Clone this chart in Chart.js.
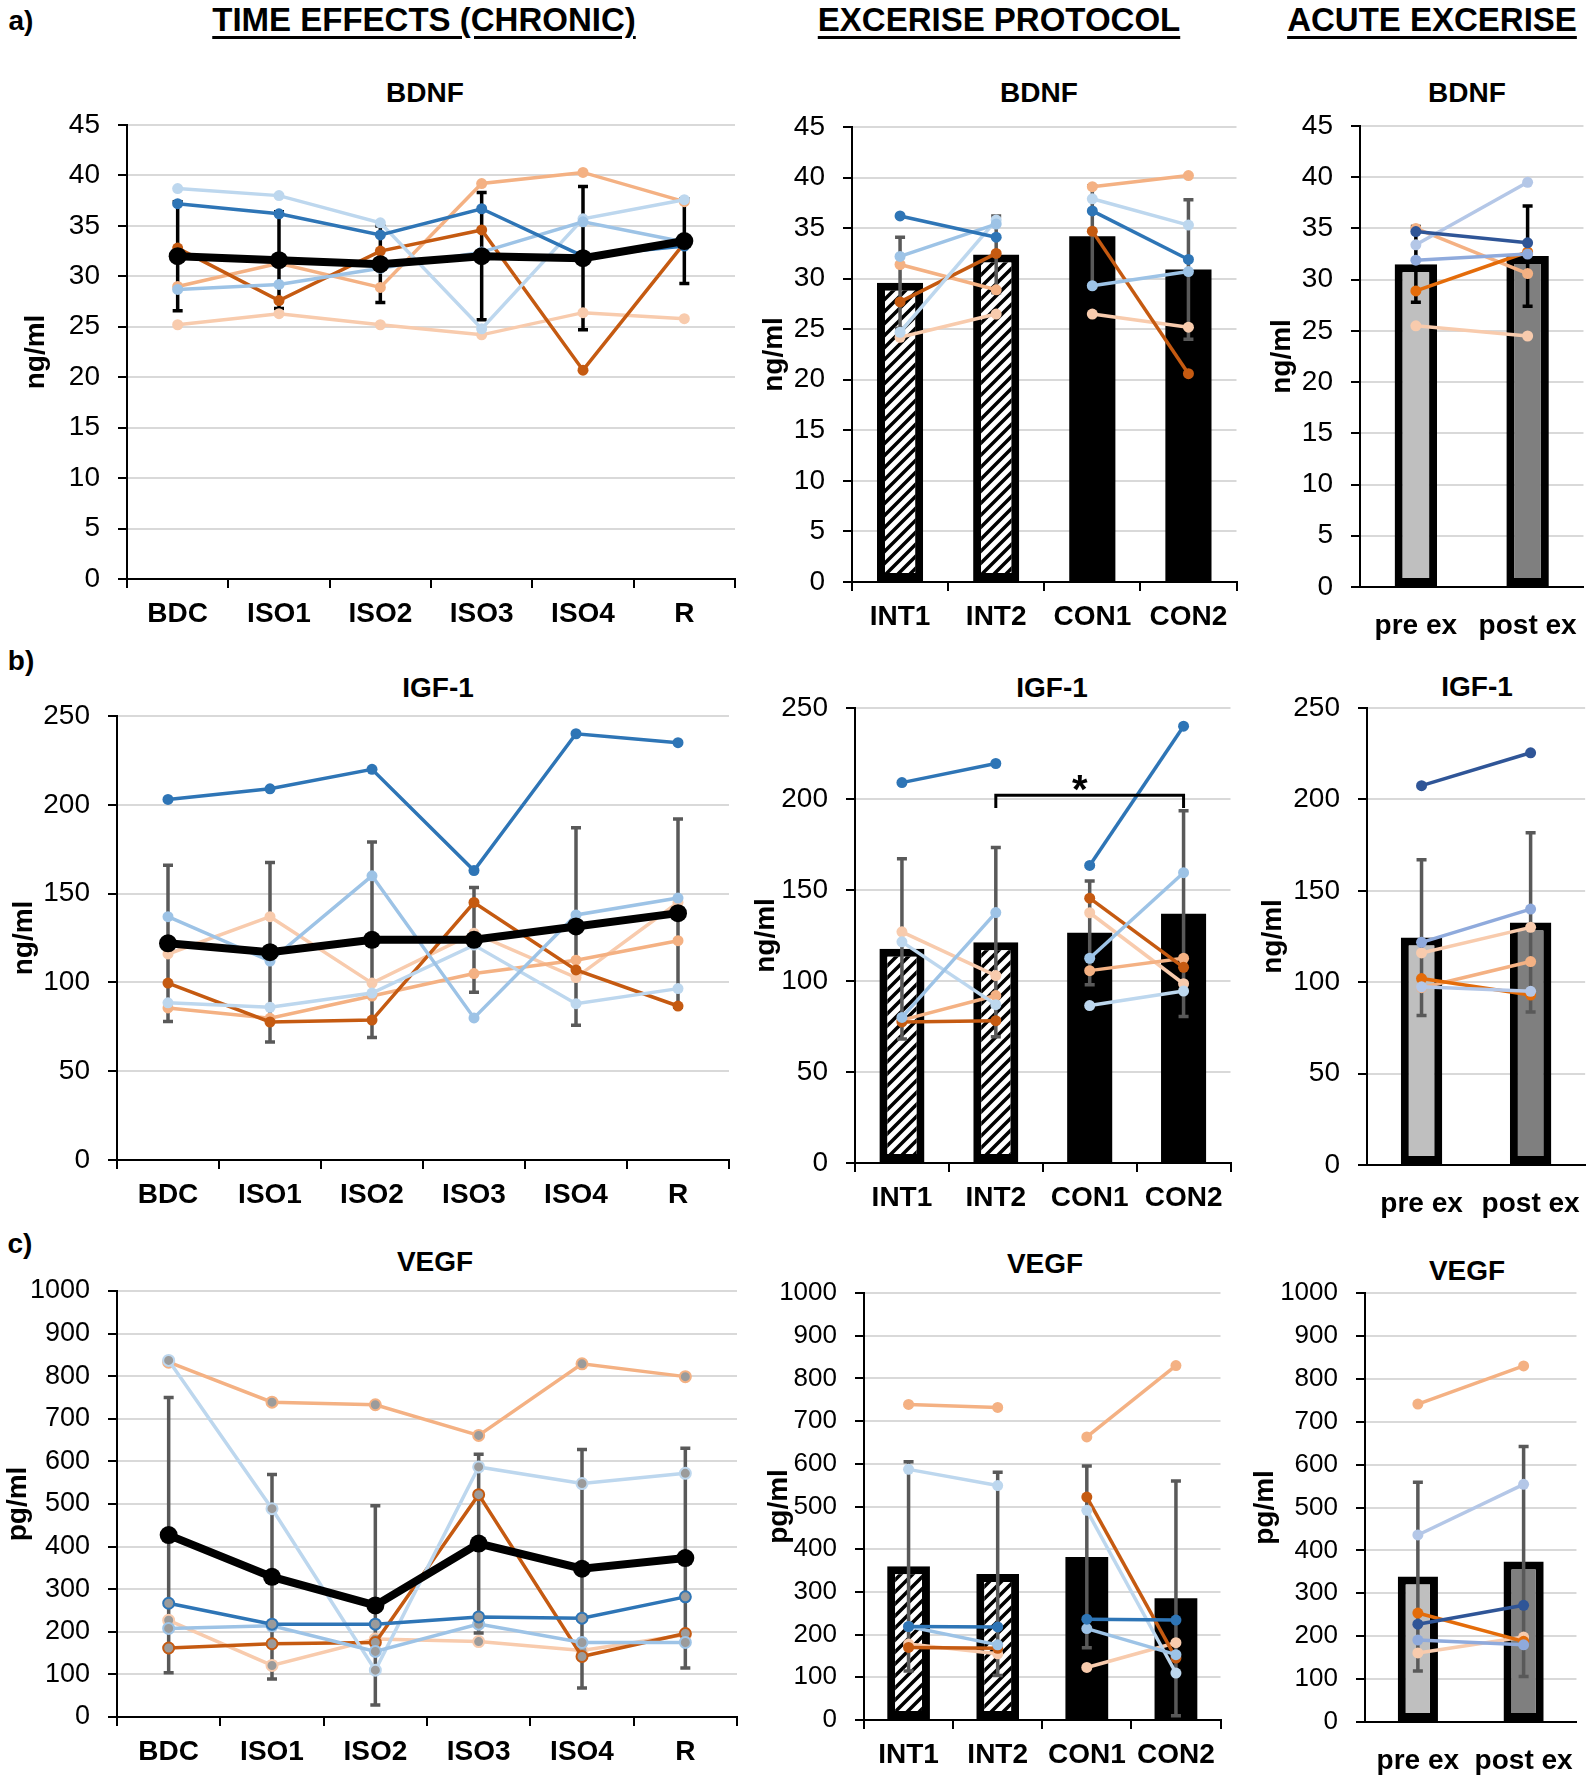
<!DOCTYPE html>
<html>
<head>
<meta charset="utf-8">
<script src="https://cdn.jsdelivr.net/npm/chart.js@4.4.1/dist/chart.umd.min.js"></script>
<style>
  body { margin: 0; background: #fff; width: 1594px; height: 1778px; position: relative; overflow: hidden;
         font-family: 'Liberation Sans', Arial, sans-serif; }
  .lbl { position: absolute; transform: translate(-50%, -50%); white-space: nowrap; font-weight: bold; color: #000; }
  .hdr { text-decoration: underline; text-decoration-thickness: 3px; text-underline-offset: 5px; }
  .panel { position: absolute; }
</style>
</head>
<body>
<script>
'use strict';

// ──────────────────────────────────────────────────────────────
//  Data
// ──────────────────────────────────────────────────────────────
const timeLabels     = ['BDC', 'ISO1', 'ISO2', 'ISO3', 'ISO4', 'R'];
const protocolLabels = ['INT1', 'INT2', 'CON1', 'CON2'];
const acuteLabels    = ['pre ex', 'post ex'];

// one colour per participant line (rows of every data table follow this order)
const subjectColors = ['#2E75B6', '#9DC3E6', '#BDD7EE', '#C55A11', '#F4B183', '#F8CBAD'];
const acuteColors   = ['#2F5597', '#8FAADC', '#B4C7E7', '#E46C0A', '#F4B183', '#F8CBAD'];

// a) BDNF (ng/ml)
const bdnfTime = [
  [37.2, 36.2, 34.1, 36.7, 32.0, 33.0],
  [28.7, 29.2, 30.8, 32.4, 35.4, 33.4],
  [38.7, 38.0, 35.3, 24.8, 35.7, 37.6],
  [32.8, 27.6, 32.5, 34.6, 20.7, 33.3],
  [29.0, 31.3, 28.9, 39.2, 40.3, 37.4],
  [25.2, 26.3, 25.2, 24.2, 26.4, 25.8],
];
const bdnfTimeMean = [32.0, 31.6, 31.2, 32.0, 31.8, 33.5];
const bdnfTimeSd   = [5.4, 4.8, 3.8, 6.3, 7.1, 4.2];

const bdnfProtocol = [
  [36.2, 34.1, 36.7, 31.9],
  [32.2, 35.4, 29.3, 30.7],
  [24.7, 35.8, 37.9, 35.3],
  [27.7, 32.5, 34.7, 20.6],
  [31.4, 28.9, 39.1, 40.2],
  [24.2, 26.5, 26.5, 25.2],
];
const bdnfProtocolMean = [29.6, 32.4, 34.2, 30.9];
const bdnfProtocolSd   = [4.5, 3.8, 5.0, 6.9];

const bdnfAcute = [
  [34.7, 33.6],
  [31.9, 32.5],
  [33.4, 39.5],
  [28.9, 32.7],
  [35.0, 30.6],
  [25.5, 24.5],
];
const bdnfAcuteMean = [31.5, 32.3];
const bdnfAcuteSd   = [3.7, 4.9];

// b) IGF-1 (ng/ml)
const igfTime = [
  [203, 209, 220, 163, 240, 235],
  [137, 112, 160, 80, 138, 147.5],
  [88.5, 86, 94, 121, 88, 96.5],
  [99.6, 77.7, 78.8, 145, 107, 86.7],
  [85.6, 79.8, 92.3, 105, 112.5, 123.5],
  [116, 137, 99.6, 127.7, 102.7, 145],
];
const igfTimeMean = [122, 117, 124, 124, 131.5, 139];
const igfTimeSd   = [44, 50.5, 55, 29.5, 55.6, 53];

const igfProtocol = [
  [209, 219.5, 163.5, 240],
  [80, 137.6, 112.5, 159.5],
  [121.5, 87, 86.5, 94.5],
  [77.5, 78.2, 145.5, 107.5],
  [78.5, 92, 105.7, 112.5],
  [127, 103, 137.5, 98.5],
];
const igfProtocolMean = [117.7, 121.3, 126.5, 137];
const igfProtocolSd   = [49.5, 52, 28.5, 56.5];
const igfBracketPair  = [1, 3];      // INT2 vs CON2
const igfBracketLevel = [202, 195];  // bar height, end of the drops

const igfAcute = [
  [207.5, 225.5],
  [121.8, 140],
  [97.5, 95],
  [102, 93],
  [97, 111.3],
  [116, 130],
];
const igfAcuteMean = [124.4, 132.7];
const igfAcuteSd   = [42.6, 49];

// c) VEGF (pg/ml)
const vegfTime = [
  [267, 218, 218, 235, 232, 282],
  [208, 214, 154, 218, 175, 175],
  [837, 489, 110, 587, 548, 572],
  [162, 172, 175, 522, 142, 196],
  [833, 739, 733, 661, 829, 799],
  [227, 121, 183, 177, 156, 193],
];
const vegfTimeMean = [427, 329, 262, 407, 348, 373];
const vegfTimeSd   = [323, 240, 234, 210, 280, 258];

const vegfProtocol = [
  [219, 218, 236, 234],
  [219, 176, 214, 153],
  [587, 549, 491, 110],
  [170, 168, 522, 145],
  [739, 732, 663, 830],
  [178, 155, 123, 181],
];
const vegfProtocolMean = [360, 342, 382, 285];
const vegfProtocolSd   = [245, 238, 213, 275];

const vegfAcute = [
  [228, 272],
  [191, 180],
  [436, 554],
  [254, 188],
  [741, 830],
  [161, 198],
];
const vegfAcuteMean = [339, 374];
const vegfAcuteSd   = [220, 268];

// ──────────────────────────────────────────────────────────────
//  Layout constants
// ──────────────────────────────────────────────────────────────
const FONT = "'Liberation Sans', Arial, sans-serif";
const PAD_TOP = 36, PAD_RIGHT = 4, X_AXIS_H = 62, Y_TITLE_HALF = 17;
const GRID = '#D9D9D9';
const ERR_GRAY = '#595959';

const panels = [
  { kind: 'time', labels: timeLabels, rows: bdnfTime, mean: bdnfTimeMean, sd: bdnfTimeSd, yMax: 45, yStep: 5,
    unit: 'ng/ml', err: '#000', axisX: 127, top: 125, bottom: 579, right: 740, yTitleX: 36, tick: 28 },
  { kind: 'protocol', labels: protocolLabels, rows: bdnfProtocol, mean: bdnfProtocolMean, sd: bdnfProtocolSd, yMax: 45, yStep: 5,
    unit: 'ng/ml', err: ERR_GRAY, axisX: 852, top: 127, bottom: 582, right: 1238, yTitleX: 774, tick: 28 },
  { kind: 'acute', labels: acuteLabels, rows: bdnfAcute, mean: bdnfAcuteMean, sd: bdnfAcuteSd, yMax: 45, yStep: 5,
    unit: 'ng/ml', err: '#000', axisX: 1360, top: 126, bottom: 587, right: 1587, yTitleX: 1282, tick: 28 },

  { kind: 'time', labels: timeLabels, rows: igfTime, mean: igfTimeMean, sd: igfTimeSd, yMax: 250, yStep: 50,
    unit: 'ng/ml', err: ERR_GRAY, axisX: 117, top: 716, bottom: 1160, right: 734, yTitleX: 24, tick: 28 },
  { kind: 'protocol', labels: protocolLabels, rows: igfProtocol, mean: igfProtocolMean, sd: igfProtocolSd, yMax: 250, yStep: 50,
    unit: 'ng/ml', err: ERR_GRAY, axisX: 855, top: 708, bottom: 1163, right: 1232, yTitleX: 766, tick: 28, bracket: true },
  { kind: 'acute', labels: acuteLabels, rows: igfAcute, mean: igfAcuteMean, sd: igfAcuteSd, yMax: 250, yStep: 50,
    unit: 'ng/ml', err: ERR_GRAY, axisX: 1367, top: 708, bottom: 1165, right: 1590, yTitleX: 1273, tick: 28 },

  { kind: 'time', labels: timeLabels, rows: vegfTime, mean: vegfTimeMean, sd: vegfTimeSd, yMax: 1000, yStep: 100,
    unit: 'pg/ml', err: ERR_GRAY, axisX: 117, top: 1291, bottom: 1717, right: 742, yTitleX: 18, tick: 27, grayDots: true },
  { kind: 'protocol', labels: protocolLabels, rows: vegfProtocol, mean: vegfProtocolMean, sd: vegfProtocolSd, yMax: 1000, yStep: 100,
    unit: 'pg/ml', err: ERR_GRAY, axisX: 864, top: 1293, bottom: 1720, right: 1222, yTitleX: 779, tick: 26 },
  { kind: 'acute', labels: acuteLabels, rows: vegfAcute, mean: vegfAcuteMean, sd: vegfAcuteSd, yMax: 1000, yStep: 100,
    unit: 'pg/ml', err: ERR_GRAY, axisX: 1365, top: 1293, bottom: 1722, right: 1583, yTitleX: 1265, tick: 26 },
];

// text: [text, centre x, centre y, size, isHeader]
const texts = [
  ['a)', 21, 21, 28], ['b)', 21, 661, 28], ['c)', 20, 1244, 28],
  ['TIME EFFECTS (CHRONIC)', 424, 20, 33, true],
  ['EXCERISE PROTOCOL', 999, 20, 33, true],
  ['ACUTE EXCERISE', 1432, 20, 33, true],
  ['BDNF', 425, 93, 28], ['BDNF', 1039, 93, 28], ['BDNF', 1467, 93, 28],
  ['IGF-1', 438, 688, 28], ['IGF-1', 1052, 688, 28], ['IGF-1', 1477, 687, 28],
  ['VEGF', 435, 1262, 28], ['VEGF', 1045, 1264, 28], ['VEGF', 1467, 1271, 28],
];

// ──────────────────────────────────────────────────────────────
//  Plugins
// ──────────────────────────────────────────────────────────────
function errorBarPlugin(mean, sd, color, overBars) {
  const draw = (chart) => {
    const { ctx, scales: { x, y } } = chart;
    ctx.save();
    ctx.strokeStyle = color;
    ctx.lineWidth = 3.5;
    mean.forEach((m, i) => {
      const px = x.getPixelForValue(i);
      const hi = y.getPixelForValue(m + sd[i]);
      const lo = y.getPixelForValue(Math.max(m - sd[i], 0));
      ctx.beginPath();
      ctx.moveTo(px, hi); ctx.lineTo(px, lo);
      ctx.moveTo(px - 5, hi); ctx.lineTo(px + 5, hi);
      ctx.moveTo(px - 5, lo); ctx.lineTo(px + 5, lo);
      ctx.stroke();
    });
    ctx.restore();
  };
  return {
    id: 'errorBars',
    beforeDatasetsDraw(chart) { if (!overBars) draw(chart); },
    afterDatasetDraw(chart, args) { if (overBars && args.meta.type === 'bar') draw(chart); },
  };
}

function bracketPlugin(pair, level, text) {
  return {
    id: 'bracket',
    afterDatasetsDraw(chart) {
      const { ctx, scales: { x, y } } = chart;
      const x0 = x.getPixelForValue(pair[0]);
      const x1 = x.getPixelForValue(pair[1]);
      const yTop = y.getPixelForValue(level[0]);
      const yLow = y.getPixelForValue(level[1]);
      ctx.save();
      ctx.strokeStyle = '#000';
      ctx.lineWidth = 3;
      ctx.beginPath();
      ctx.moveTo(x0, yLow); ctx.lineTo(x0, yTop); ctx.lineTo(x1, yTop); ctx.lineTo(x1, yLow);
      ctx.stroke();
      ctx.fillStyle = '#000';
      ctx.font = `bold 40px ${FONT}`;
      ctx.textAlign = 'center';
      ctx.textBaseline = 'alphabetic';
      ctx.fillText(text, (x0 + x1) / 2 - 10, yTop + 8);
      ctx.restore();
    },
  };
}

function hatch(ctx) {
  const tile = document.createElement('canvas');
  tile.width = 12; tile.height = 12;
  const g = tile.getContext('2d');
  g.fillStyle = '#fff';
  g.fillRect(0, 0, 12, 12);
  g.strokeStyle = '#000';
  g.lineWidth = 3.5;
  g.beginPath();
  g.moveTo(-3, 15); g.lineTo(15, -3);
  g.moveTo(-3, 3); g.lineTo(3, -3);
  g.moveTo(9, 15); g.lineTo(15, 9);
  g.stroke();
  return ctx.createPattern(tile, 'repeat');
}

// ──────────────────────────────────────────────────────────────
//  Build
// ──────────────────────────────────────────────────────────────
texts.forEach(([t, x, y, size, header]) => {
  const el = document.createElement('div');
  el.className = header ? 'lbl hdr' : 'lbl';
  el.textContent = t;
  el.style.left = x + 'px';
  el.style.top = y + 'px';
  el.style.fontSize = size + 'px';
  document.body.appendChild(el);
});

panels.forEach(buildPanel);

function buildPanel(p) {
  const left = p.yTitleX - Y_TITLE_HALF;
  const top = p.top - PAD_TOP;
  const box = document.createElement('div');
  box.className = 'panel';
  box.style.left = left + 'px';
  box.style.top = top + 'px';
  box.style.width = (p.right - left + PAD_RIGHT) + 'px';
  box.style.height = (p.bottom - top + X_AXIS_H) + 'px';
  const canvas = document.createElement('canvas');
  box.appendChild(canvas);
  document.body.appendChild(box);
  const ctx = canvas.getContext('2d');
  const yW = p.axisX - left;

  const colors = p.kind === 'acute' ? acuteColors : subjectColors;
  const datasets = p.rows.map((vals, i) => ({
    type: 'line',
    data: vals,
    borderColor: colors[i],
    backgroundColor: colors[i],
    borderWidth: 3.5,
    pointRadius: 5.5,
    pointBackgroundColor: p.grayDots ? '#9B9B9B' : colors[i],
    pointBorderColor: colors[i],
    pointBorderWidth: p.grayDots ? 2 : 0,
    tension: 0,
    order: 1,
    segment: p.kind === 'protocol'
      ? { borderColor: (c) => (c.p0DataIndex === 1 ? 'rgba(0,0,0,0)' : colors[i]) }
      : undefined,
  }));

  if (p.kind === 'time') {
    datasets.push({
      type: 'line', data: p.mean, borderColor: '#000', backgroundColor: '#000',
      borderWidth: 8, pointRadius: 9, pointBorderWidth: 0, tension: 0, order: 0,
    });
  } else {
    const pat = hatch(ctx);
    const fills = p.kind === 'protocol' ? [pat, pat, '#000', '#000'] : ['#BFBFBF', '#7F7F7F'];
    const borders = p.kind === 'protocol' ? [8, 8, 0, 0] : [8, 8];
    datasets.push({
      type: 'bar', data: p.mean, backgroundColor: fills, borderColor: '#000', borderWidth: borders,
      borderSkipped: false, barPercentage: p.kind === 'protocol' ? 0.48 : 0.38, categoryPercentage: 1, order: 5,
    });
  }

  const plugins = [errorBarPlugin(p.mean, p.sd, p.err, p.kind !== 'time')];
  if (p.bracket) plugins.push(bracketPlugin(igfBracketPair, igfBracketLevel, '*'));

  const xTicks = p.kind !== 'acute';

  new Chart(ctx, {
    type: p.kind === 'time' ? 'line' : 'bar',
    data: { labels: p.labels, datasets },
    options: {
      responsive: true,
      maintainAspectRatio: false,
      animation: false,
      layout: { padding: { top: PAD_TOP, right: PAD_RIGHT, left: 0, bottom: 0 } },
      plugins: { legend: { display: false }, tooltip: { enabled: false } },
      scales: {
        x: {
          offset: true,
          grid: { display: xTicks, offset: true, drawOnChartArea: false, tickLength: 9, tickColor: '#000', lineWidth: 2 },
          border: { display: true, color: '#000', width: 2 },
          ticks: { color: '#000', font: { family: FONT, size: 28, weight: 'bold' }, padding: xTicks ? 9 : 13,
                   maxRotation: 0, autoSkip: false },
          afterFit: (s) => { s.height = X_AXIS_H; },
        },
        y: {
          min: 0,
          max: p.yMax,
          ticks: { stepSize: p.yStep, color: '#000', font: { family: FONT, size: p.tick }, padding: 18,
                   callback: (v) => String(v) },
          grid: { color: GRID, lineWidth: 2, tickColor: '#000', tickLength: 9 },
          border: { display: true, color: '#000', width: 2 },
          title: { display: true, text: p.unit, color: '#000', padding: 0,
                   font: { family: FONT, size: 28, weight: 'bold' } },
          afterFit: (s) => { s.width = yW; },
        },
      },
    },
    plugins,
  });
}
</script>
</body>
</html>
